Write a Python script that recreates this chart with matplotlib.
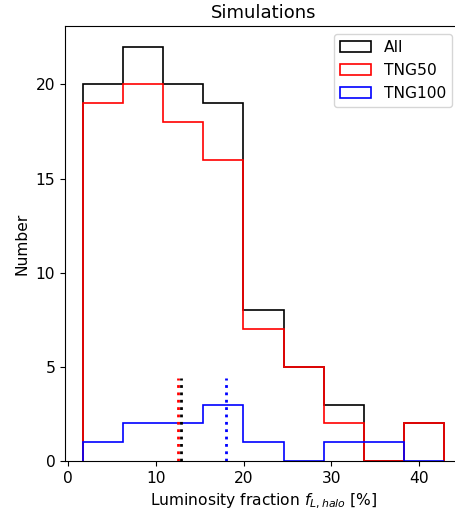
import numpy as np
import matplotlib
matplotlib.use("Agg")
import matplotlib.pyplot as plt

# bin edges of the luminosity fraction histogram [%]
edges = [1.71, 6.28, 10.85, 15.42, 19.99, 24.56, 29.13, 33.70, 38.27, 42.84]
counts_all = [20, 22, 20, 19, 8, 5, 3, 0, 2]
counts_tng50 = [19, 20, 18, 16, 7, 5, 2, 0, 2]
counts_tng100 = [1, 2, 2, 3, 1, 0, 1, 1, 0]

# median values
med_all = 12.9
med_tng50 = 12.5
med_tng100 = 18.0

centers = [(edges[i] + edges[i+1]) / 2 for i in range(len(edges) - 1)]

fig = plt.figure(figsize=(4.55, 5.13), dpi=100)
ax = fig.add_axes([65/455, 1 - 461/513, (462 - 65)/455, (461 - 26)/513])

ax.hist(centers, bins=edges, weights=counts_all, histtype="step", color="k", lw=1.2, label="All")
ax.hist(centers, bins=edges, weights=counts_tng50, histtype="step", color="r", lw=1.2, label="TNG50")
ax.hist(centers, bins=edges, weights=counts_tng100, histtype="step", color="b", lw=1.2, label="TNG100")

ax.axvline(med_all, ymax=0.19, color="k", ls=":", lw=2)
ax.axvline(med_tng50, ymax=0.19, color="r", ls=":", lw=2)
ax.axvline(med_tng100, ymax=0.19, color="b", ls=":", lw=2)

ax.set_ylim(0, 23.1)
ax.set_title("Simulations", fontsize=13)
ax.set_xlabel("Luminosity fraction $f_{L,halo}$ [%]", fontsize=11.2)
ax.set_ylabel("Number", fontsize=11.2)
ax.tick_params(labelsize=11.2)
ax.legend(loc="upper right", fontsize=11.2, bbox_to_anchor=(0.995, 1.0))

fig.savefig("out.png", dpi=100)
